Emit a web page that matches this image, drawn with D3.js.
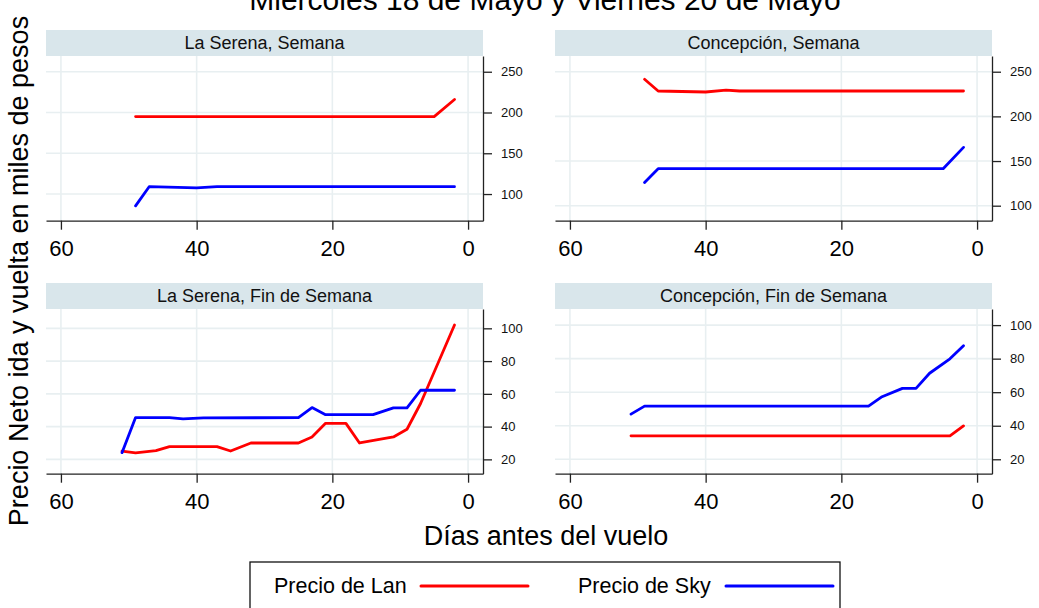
<!DOCTYPE html>
<html>
<head>
<meta charset="utf-8">
<script src="https://cdn.jsdelivr.net/npm/d3@7"></script>
<style>
  body { margin: 0; background: #fff; }
  svg { display: block; font-family: 'Liberation Sans', Arial, sans-serif; }
</style>
</head>
<body>
<div id="root"></div>
<script>
// days before flight (x) and price in thousands of pesos (y)
const lsSemLanDias = [49, 47, 40, 5, 2];
const lsSemLan = [195, 195, 195, 195, 216];
const lsSemSkyDias = [49, 47, 40, 37, 2];
const lsSemSky = [85.5, 109, 107.5, 109, 109];

const coSemLanDias = [49, 47, 40, 37, 35, 2];
const coSemLan = [241.5, 228.4, 227.3, 229.3, 228.4, 228.4];
const coSemSkyDias = [49, 47, 5, 2];
const coSemSky = [126, 141.4, 141.4, 165.3];

const lsFdsLanDias = [51, 49, 46, 44, 42, 37, 35, 32, 25, 23, 21, 18, 16, 11, 9, 7, 2];
const lsFdsLan = [25, 24, 25.3, 27.8, 27.8, 27.8, 25.1, 30, 30, 33.7, 42, 42, 30, 33.7, 38.4, 54.1, 102];
const lsFdsSkyDias = [51, 49, 44, 42, 39, 25, 23, 21, 14, 11, 9, 7, 2];
const lsFdsSky = [24.1, 45.5, 45.5, 44.7, 45.3, 45.5, 51.6, 47.3, 47.3, 51.4, 51.4, 62.2, 62.2];

const coFdsLanDias = [51, 4, 2];
const coFdsLan = [34, 34, 39.9];
const coFdsSkyDias = [51, 49, 16, 14, 11, 9, 7, 4, 2];
const coFdsSky = [46.9, 51.7, 51.7, 57.3, 62.3, 62.3, 71.3, 79.9, 87.7];

const panelTitles = ['La Serena, Semana', 'Concepción, Semana', 'La Serena, Fin de Semana', 'Concepción, Fin de Semana'];
const xTicks = [60, 40, 20, 0];
const yTicksSemana = [100, 150, 200, 250];
const yTicksFds = [20, 40, 60, 80, 100];
const seriesNames = ['Precio de Lan', 'Precio de Sky'];

const W = 1039;
const H = 608;
const plotW = 437;
const plotH = 164.7;
const stripH = 26;
const colX = [46, 555];
const rowY = [56, 309];
const red = '#ff0000';
const blue = '#0000ff';
const gridColor = '#e8eff1';

const panels = [
    { title: panelTitles[0], col: 0, row: 0, yDomain: [67.3, 269.3], yTicks: yTicksSemana,
      lan: [lsSemLanDias, lsSemLan], sky: [lsSemSkyDias, lsSemSky] },
    { title: panelTitles[1], col: 1, row: 0, yDomain: [83.2, 267.6], yTicks: yTicksSemana,
      lan: [coSemLanDias, coSemLan], sky: [coSemSkyDias, coSemSky] },
    { title: panelTitles[2], col: 0, row: 1, yDomain: [11.25, 111.8], yTicks: yTicksFds,
      lan: [lsFdsLanDias, lsFdsLan], sky: [lsFdsSkyDias, lsFdsSky] },
    { title: panelTitles[3], col: 1, row: 1, yDomain: [11.4, 109.6], yTicks: yTicksFds,
      lan: [coFdsLanDias, coFdsLan], sky: [coFdsSkyDias, coFdsSky] },
];

const svg = d3.select('#root')
    .append('svg')
    .attr('width', W)
    .attr('height', H);

svg.append('rect')
    .attr('width', W)
    .attr('height', H)
    .attr('fill', '#fff');

const x = d3.scaleLinear().domain([62.2, -2.2]).range([0, plotW]);

panels.forEach(p => {
    const g = svg.append('g')
        .attr('transform', `translate(${colX[p.col]},${rowY[p.row]})`);
    const y = d3.scaleLinear().domain(p.yDomain).range([plotH, 0]);

    // strip
    g.append('rect')
        .attr('x', 0)
        .attr('y', -stripH)
        .attr('width', plotW)
        .attr('height', stripH)
        .attr('fill', '#d9e6eb');
    g.append('text')
        .attr('x', plotW / 2)
        .attr('y', -stripH / 2)
        .attr('dy', '0.36em')
        .attr('text-anchor', 'middle')
        .style('font-size', '18px')
        .attr('fill', '#111')
        .text(p.title);

    // grid
    g.selectAll('line.vgrid')
        .data(xTicks)
        .join('line')
        .attr('class', 'vgrid')
        .attr('x1', d => x(d))
        .attr('x2', d => x(d))
        .attr('y1', 0)
        .attr('y2', plotH)
        .attr('stroke', gridColor)
        .attr('stroke-width', 1.6);
    g.selectAll('line.hgrid')
        .data(p.yTicks)
        .join('line')
        .attr('class', 'hgrid')
        .attr('x1', 0)
        .attr('x2', plotW)
        .attr('y1', d => y(d))
        .attr('y2', d => y(d))
        .attr('stroke', gridColor)
        .attr('stroke-width', 1.6);

    // series
    const line = d3.line()
        .x(d => x(d[0]))
        .y(d => y(d[1]));
    [[p.lan, red], [p.sky, blue]].forEach(([s, color]) => {
        const pts = s[0].map((d, k) => [d, s[1][k]]);
        g.append('path')
            .datum(pts)
            .attr('d', line)
            .attr('fill', 'none')
            .attr('stroke', color)
            .attr('stroke-width', 2.8)
            .attr('stroke-linejoin', 'round')
            .attr('stroke-linecap', 'round');
    });

    // axes
    const xAxis = g.append('g')
        .attr('transform', `translate(0,${plotH})`)
        .call(d3.axisBottom(x).tickValues(xTicks).tickSize(9).tickSizeOuter(0).tickPadding(11));
    xAxis.selectAll('text').style('font-size', '22px').attr('fill', '#000');

    const yAxis = g.append('g')
        .attr('transform', `translate(${plotW},0)`)
        .call(d3.axisRight(y).tickValues(p.yTicks).tickSize(9).tickSizeOuter(0).tickPadding(9));
    yAxis.selectAll('text').style('font-size', '13px').attr('fill', '#111');

    g.selectAll('.domain, .tick line')
        .attr('stroke', '#222')
        .attr('stroke-width', 1.3);
});

// titles
svg.append('text')
    .attr('x', 545)
    .attr('y', 10)
    .attr('text-anchor', 'middle')
    .style('font-size', '30px')
    .attr('fill', '#000')
    .text('Miercoles 18 de Mayo y Viernes 20 de Mayo');

svg.append('text')
    .attr('transform', 'translate(28,271) rotate(-90)')
    .attr('text-anchor', 'middle')
    .style('font-size', '27px')
    .attr('fill', '#000')
    .text('Precio Neto ida y vuelta en miles de pesos');

svg.append('text')
    .attr('x', 546)
    .attr('y', 545)
    .attr('text-anchor', 'middle')
    .style('font-size', '27px')
    .attr('fill', '#000')
    .text('Días antes del vuelo');

// legend
const legend = svg.append('g');
legend.append('rect')
    .attr('x', 250)
    .attr('y', 562)
    .attr('width', 590)
    .attr('height', 60)
    .attr('fill', '#fff')
    .attr('stroke', '#111')
    .attr('stroke-width', 1.3);

const legendItems = [
    { name: seriesNames[0], color: red, tx: 274, lx: 421 },
    { name: seriesNames[1], color: blue, tx: 578, lx: 726 },
];
legendItems.forEach(it => {
    legend.append('text')
        .attr('x', it.tx)
        .attr('y', 593)
        .style('font-size', '21.5px')
        .attr('fill', '#000')
        .text(it.name);
    legend.append('line')
        .attr('x1', it.lx)
        .attr('x2', it.lx + 107)
        .attr('y1', 586)
        .attr('y2', 586)
        .attr('stroke', it.color)
        .attr('stroke-width', 3)
        .attr('stroke-linecap', 'round');
});
</script>
</body>
</html>
